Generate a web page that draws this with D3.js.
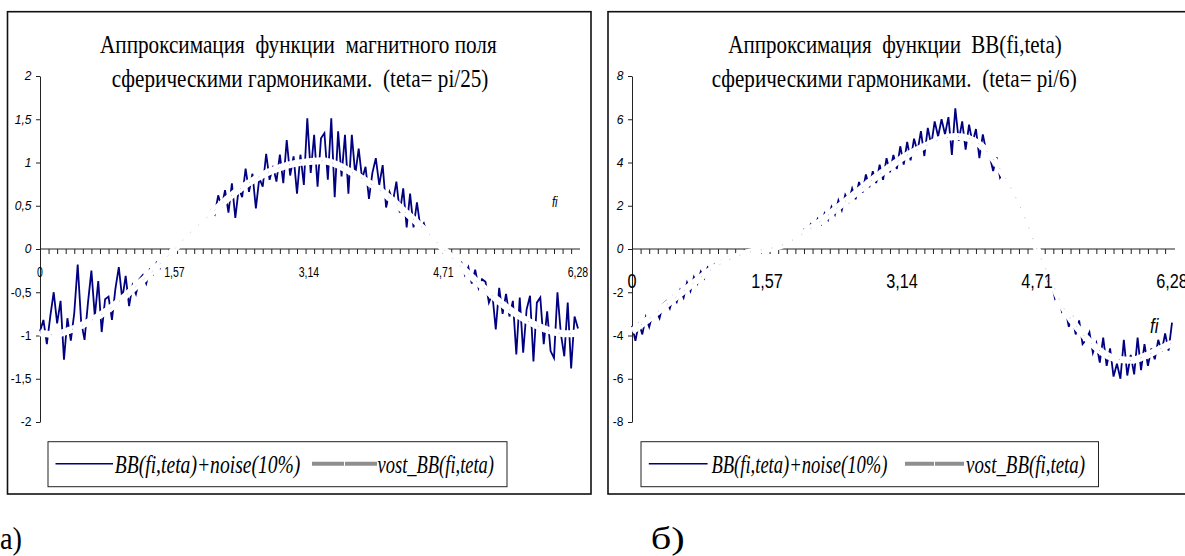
<!DOCTYPE html>
<html>
<head>
<meta charset="utf-8">
<script src="https://cdn.jsdelivr.net/npm/d3@7"></script>
<style>
  body { margin: 0; background: #fff; }
  text { white-space: pre; }
</style>
</head>
<body>
<svg id="chart" width="1185" height="556"></svg>
<script>
// sampling steps of the two series (rad)
const noiseStep = 0.04
const vostStep = 0.157

// panel а: BB(fi,teta)+noise(10%), teta = pi/25
const noiseA = [
  -0.95, -0.82, -1.10, -0.78, -0.50, -0.86, -0.60, -1.28, -0.80, -1.06,
  -0.74, -0.18, -0.84, -1.05, -0.62, -0.25, -0.78, -0.37, -0.96, -0.58,
  -0.55, -0.82, -0.46, -0.21, -0.58, -0.31, -0.66, -0.42, -0.52, -0.35,
  -0.30, -0.40, -0.24, -0.29, -0.16, -0.22, -0.10, -0.12, -0.03, -0.02,
  0.04, 0.06, 0.13, 0.12, 0.21, 0.20, 0.30, 0.28, 0.36, 0.40,
  0.45, 0.40, 0.62, 0.48, 0.68, 0.42, 0.76, 0.36, 0.70, 0.60,
  0.93, 0.66, 0.87, 0.47, 0.82, 0.72, 1.10, 0.80, 0.96, 0.78,
  1.09, 0.76, 1.26, 0.85, 1.07, 0.64, 1.09, 0.74, 1.51, 0.88,
  1.32, 0.72, 1.28, 1.34, 0.80, 1.51, 0.60, 1.36, 0.84, 1.32,
  0.64, 1.32, 0.86, 1.16, 0.81, 0.95, 0.58, 0.88, 1.05, 0.74,
  0.97, 0.48, 0.66, 0.55, 0.78, 0.42, 0.70, 0.25, 0.64, 0.25,
  0.54, 0.25, 0.30, 0.17, 0.14, 0.10, 0.07, 0.03, -0.01, -0.05,
  -0.10, -0.12, -0.20, -0.16, -0.30, -0.21, -0.40, -0.24, -0.45, -0.35,
  -0.38, -0.62, -0.52, -0.93, -0.45, -0.75, -0.52, -0.78, -0.60, -1.22,
  -0.56, -1.20, -0.70, -0.54, -1.30, -0.62, -0.56, -1.10, -0.72, -1.18,
  -1.26, -0.50, -0.98, -1.24, -0.62, -1.38, -0.78, -0.92
]
// panel а: vost_BB(fi,teta)
const vostA = [
  -0.97, -0.99, -0.95, -0.89, -0.81, -0.71, -0.59, -0.45, -0.31, -0.16,
  0.00, 0.16, 0.31, 0.45, 0.59, 0.71, 0.81, 0.89, 0.95, 0.99,
  1.01, 1.02, 0.98, 0.90, 0.81, 0.71, 0.59, 0.45, 0.31, 0.16,
  0.00, -0.16, -0.31, -0.45, -0.59, -0.71, -0.81, -0.89, -0.95, -0.98,
  -0.97
]

// panel б: BB(fi,teta)+noise(10%), teta = pi/6
const noiseB = [
  -3.55, -4.25, -3.40, -3.95, -3.15, -3.60, -3.00, -2.85, -3.20, -2.55,
  -2.40, -2.75, -2.20, -2.45, -1.90, -2.25, -1.55, -1.95, -1.30, -1.60,
  -1.05, -1.35, -0.85, -1.05, -0.70, -0.82, -0.55, -0.62, -0.40, -0.50,
  -0.32, -0.38, -0.22, -0.25, -0.12, -0.15, -0.06, -0.05, -0.02, 0.00,
  0.02, 0.05, 0.10, 0.14, 0.22, 0.28, 0.38, 0.42, 0.60, 0.55,
  0.90, 0.78, 1.15, 0.98, 1.40, 1.15, 1.65, 1.35, 1.95, 1.60,
  2.25, 1.80, 2.50, 2.20, 2.80, 2.30, 3.10, 2.60, 3.45, 2.85,
  3.60, 3.05, 3.90, 3.20, 4.20, 3.55, 4.35, 3.70, 4.75, 3.90,
  4.95, 4.10, 5.10, 4.50, 5.45, 4.30, 5.60, 4.80, 5.90, 5.20,
  6.00, 5.30, 6.10, 4.35, 6.50, 5.00, 5.90, 4.60, 5.75, 4.90,
  5.55, 4.20, 5.30, 4.50, 4.30, 3.60, 4.25, 3.30, 3.55, 2.95,
  3.05, 2.40, 2.20, 1.75, 1.50, 1.00, 0.60, 0.20, -0.20, -0.55,
  -0.90, -1.50, -1.60, -2.30, -2.10, -2.90, -2.75, -3.60, -3.10, -3.95,
  -3.30, -4.40, -4.20, -3.85, -4.80, -4.35, -5.25, -4.10, -5.40, -4.60,
  -5.90, -5.30, -6.00, -4.20, -5.85, -4.90, -5.80, -4.10, -5.60, -4.40,
  -5.40, -4.60, -5.10, -4.20, -4.75, -3.90, -4.70, -3.40
]
// panel б: vost_BB(fi,teta)
const vostB = [
  -3.80, -3.35, -2.85, -2.35, -1.85, -1.35, -0.90, -0.55, -0.28, -0.10,
  0.00, 0.15, 0.45, 0.85, 1.30, 1.80, 2.30, 2.80, 3.30, 3.75,
  4.20, 4.55, 4.85, 5.10, 5.20, 5.10, 4.70, 3.95, 2.90, 1.60,
  0.00, -1.40, -2.75, -3.65, -4.35, -4.85, -5.10, -5.15, -4.95, -4.65,
  -4.35
]

const xTickValues = [0, 1.57, 3.14, 4.71, 6.28]
const xTickLabels = ['0', '1,57', '3,14', '4,71', '6,28']
const yTicksA = [-2, -1.5, -1, -0.5, 0, 0.5, 1, 1.5, 2]
const yLabelsA = ['-2', '-1,5', '-1', '-0,5', '0', '0,5', '1', '1,5', '2']
const yTicksB = [-8, -6, -4, -2, 0, 2, 4, 6, 8]
const yLabelsB = ['-8', '-6', '-4', '-2', '0', '2', '4', '6', '8']
const titlesA = ['Аппроксимация  функции  магнитного поля', 'сферическими гармониками.  (teta= pi/25)']
const titlesB = ['Аппроксимация  функции  BB(fi,teta)', 'сферическими гармониками.  (teta= pi/6)']
const legendNames = ['BB(fi,teta)+noise(10%)', 'vost_BB(fi,teta)']
const axisName = 'fi'

const navy = '#000080'
const serif = "'Liberation Serif', 'Times New Roman', 'DejaVu Serif', serif"
const sans = "'Liberation Sans', Arial, 'DejaVu Sans', sans-serif"
const svg = d3.select('#chart')

svg.append('rect').attr('width', 1185).attr('height', 556).attr('fill', '#fff')

function addText(g, x, y, str, opts) {
  const t = g.append('text')
    .style('font-family', opts.family || sans)
    .attr('font-size', opts.size)
    .attr('font-style', opts.style || 'normal')
    .attr('text-anchor', opts.anchor || 'start')
    .attr('fill', '#000')
    .text(str)
  if (opts.sx) {
    t.attr('transform', `translate(${x},${y}) scale(${opts.sx},1)`)
  } else {
    t.attr('x', x).attr('y', y)
  }
  if (opts.width) t.attr('textLength', opts.width).attr('lengthAdjust', 'spacingAndGlyphs')
  return t
}

function drawPanel(p) {
  const g = svg.append('g')

  // frame
  g.append('rect')
    .attr('x', p.frame[0]).attr('y', p.frame[1])
    .attr('width', p.frame[2] - p.frame[0]).attr('height', p.frame[3] - p.frame[1])
    .attr('fill', 'none').attr('stroke', '#111').attr('stroke-width', 1.6)

  // title, two lines
  p.titles.forEach((s, i) => {
    addText(g, p.titleX[i], p.titleY[i], s, {
      family: serif, size: 26, width: p.titleW[i]
    })
  })

  const x = d3.scaleLinear().domain([0, 6.28]).range([p.x0, p.x1])
  const y = d3.scaleLinear().domain(p.yDomain).range([422, 76])

  // category axis, minor tick every 0.1
  const xAxis = g.append('g')
    .attr('transform', `translate(0,${y(0)})`)
    .call(d3.axisBottom(x)
      .tickValues(d3.range(0, 6.25, 0.1))
      .tickSize(5)
      .tickSizeOuter(0)
      .tickFormat(''))
  xAxis.select('.domain').attr('stroke', '#222').attr('d', `M${p.x0},0H${p.axisEnd}`)
  xAxis.selectAll('.tick line').attr('stroke', '#222')

  const yAxis = g.append('g')
    .attr('transform', `translate(${p.x0},0)`)
    .call(d3.axisLeft(y)
      .tickValues(p.yTicks)
      .tickSize(4)
      .tickSizeOuter(0)
      .tickPadding(4.5)
      .tickFormat((d, i) => p.yLabels[i]))
  yAxis.select('.domain').attr('stroke', '#222')
  yAxis.selectAll('.tick line').attr('stroke', '#222')
  yAxis.selectAll('.tick text')
    .style('font-family', sans)
    .attr('font-size', 12)
    .attr('font-style', d => d >= 0 ? 'italic' : 'normal')
    .attr('fill', '#000')

  // noisy series
  const noisePts = p.noise.map((v, i) => [i * noiseStep, v])
  g.append('path')
    .datum(noisePts)
    .attr('fill', 'none')
    .attr('stroke', navy)
    .attr('stroke-width', 1.8)
    .attr('d', d3.line().x(d => x(d[0])).y(d => y(d[1])))

  // reconstructed series, broad light line drawn on top
  const vostPts = p.vost.map((v, i) => [Math.min(i * vostStep, 6.28), v])
  const vostLine = d3.line().x(d => x(d[0])).y(d => y(d[1])).curve(d3.curveMonotoneX)
  g.append('path')
    .datum(vostPts)
    .attr('fill', 'none')
    .attr('stroke', '#fff')
    .attr('stroke-width', 7)
    .attr('d', vostLine)
  g.append('path')
    .datum(vostPts)
    .attr('fill', 'none')
    .attr('stroke', '#b4b4dc')
    .attr('stroke-width', 1)
    .attr('stroke-dasharray', '1 10')
    .attr('d', vostLine)

  // category labels
  xTickValues.forEach((v, i) => {
    addText(g, x(v), p.xLabelY, xTickLabels[i], {
      size: p.xLabelSize, anchor: 'middle', sx: p.xLabelSx
    })
  })
  addText(g, p.fiPos[0], p.fiPos[1], axisName, {
    size: p.fiSize, style: 'italic', sx: 0.8
  })

  // legend
  const lg = p.legend
  g.append('rect')
    .attr('x', lg.box[0]).attr('y', lg.box[1])
    .attr('width', lg.box[2] - lg.box[0]).attr('height', lg.box[3] - lg.box[1])
    .attr('fill', '#fff').attr('stroke', '#222').attr('stroke-width', 1)
  const ly = (lg.box[1] + lg.box[3]) / 2 - 0.5
  g.append('line')
    .attr('x1', lg.blue[0]).attr('x2', lg.blue[1]).attr('y1', ly).attr('y2', ly)
    .attr('stroke', navy).attr('stroke-width', 1.5)
  addText(g, lg.text1[0], 473, legendNames[0], {
    family: serif, size: 25, style: 'italic', width: lg.text1[1]
  })
  g.append('line')
    .attr('x1', lg.gray[0]).attr('x2', lg.gray[1]).attr('y1', ly).attr('y2', ly)
    .attr('stroke', '#8e8e8e').attr('stroke-width', 4)
    .attr('stroke-dasharray', `${(lg.gray[1] - lg.gray[0]) / 2 - 0.5} 1`)
  addText(g, lg.text2[0], 473, legendNames[1], {
    family: serif, size: 25, style: 'italic', width: lg.text2[1]
  })

  // panel letter under the chart
  addText(svg, p.letter[0], 549, p.letter[2], {
    family: serif, size: 32, width: p.letter[1]
  })
}

drawPanel({
  frame: [7.5, 11.7, 591, 494],
  titles: titlesA, titleX: [100, 111.7], titleY: [53, 87], titleW: [396.7, 376.7],
  x0: 40, x1: 578, axisEnd: 580,
  yDomain: [-2, 2], yTicks: yTicksA, yLabels: yLabelsA,
  noise: noiseA, vost: vostA,
  xLabelY: 277, xLabelSize: 14, xLabelSx: 0.75,
  fiPos: [552, 206.5], fiSize: 14,
  legend: { box: [48, 441.7, 507, 486.7], blue: [55.5, 113], text1: [114.8, 185.6], gray: [312, 377], text2: [377.5, 116.5] },
  letter: [0, 22, 'а)']
})

drawPanel({
  frame: [608, 11.7, 1195, 494],
  titles: titlesB, titleX: [728.3, 711.7], titleY: [53, 87], titleW: [333.4, 365],
  x0: 632, x1: 1172, axisEnd: 1175,
  yDomain: [-8, 8], yTicks: yTicksB, yLabels: yLabelsB,
  noise: noiseB, vost: vostB,
  xLabelY: 288, xLabelSize: 21, xLabelSx: 0.775,
  fiPos: [1150, 333], fiSize: 21,
  legend: { box: [641, 441.7, 1098.5, 486.7], blue: [648.8, 707.6], text1: [711.4, 176], gray: [905, 964], text2: [966, 119] },
  letter: [650.7, 34, 'б)']
})
</script>
</body>
</html>
